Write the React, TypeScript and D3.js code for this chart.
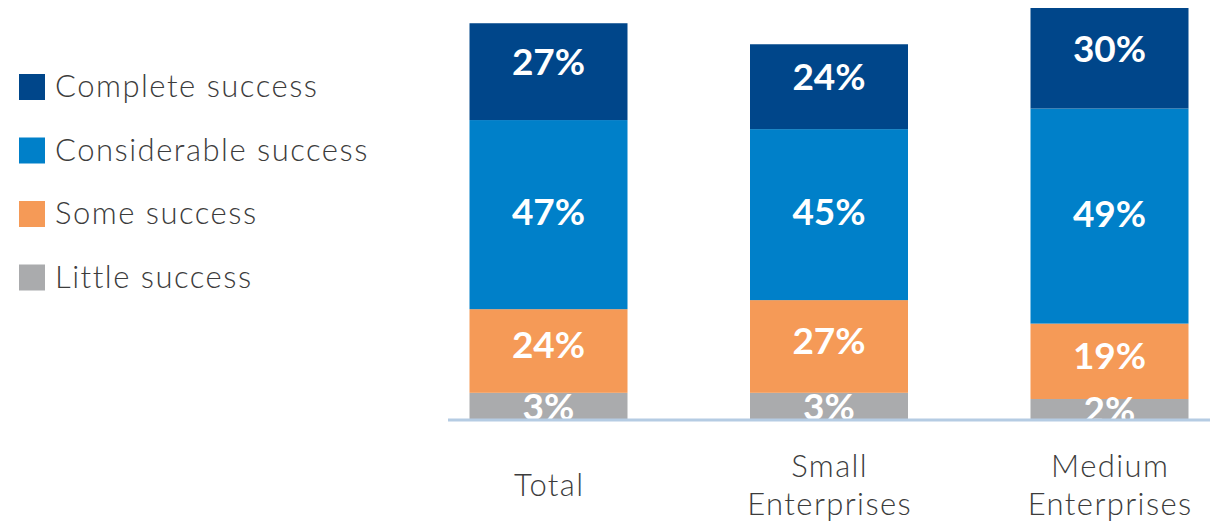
import React from "react";
import * as d3 from "d3";

// Categories (x axis)
const categories: string[][] = [["Total"], ["Small", "Enterprises"], ["Medium", "Enterprises"]];
const categoryKeys = ["Total", "Small Enterprises", "Medium Enterprises"];

// Series names (legend, top to bottom)
const seriesNames = ["Complete success", "Considerable success", "Some success", "Little success"];

// Printed percentage labels per series
const completeLabels = [27, 24, 30];
const considerableLabels = [47, 45, 49];
const someLabels = [24, 27, 19];
const littleLabels = [3, 3, 2];

// Segment sizes as drawn in the picture (share of the full-height bar)
const completeDrawn = [23.5, 20.6, 24.4];
const considerableDrawn = [45.9, 41.5, 52.2];
const someDrawn = [20.3, 22.5, 18.3];
const littleDrawn = [6.6, 6.6, 5.1];

const colors = ["#00468A", "#0080C9", "#F59A57", "#AAABAD"];
const labelDy = [-11, -4, -7, -1];

export default function App() {
  const W = 1210;
  const H = 521;
  const baseY = 420;
  const barW = 158;

  const x = d3.scalePoint<string>().domain(categoryKeys).range([548.5, 1109.5]);
  const y = d3.scaleLinear().domain([0, 100]).range([baseY, 8]);

  // stack bottom-to-top: little, some, considerable, complete
  const drawnBottomUp = [littleDrawn, someDrawn, considerableDrawn, completeDrawn];
  const labelsBottomUp = [littleLabels, someLabels, considerableLabels, completeLabels];
  const colorIdxBottomUp = [3, 2, 1, 0];

  const rows = categoryKeys.map((k, i) => {
    const o: any = { key: k };
    drawnBottomUp.forEach((arr, s) => (o["s" + s] = arr[i]));
    return o;
  });
  const stack = d3.stack<any>().keys(["s0", "s1", "s2", "s3"]);
  const stacked = stack(rows);

  const valueFont = "Lato, 'Open Sans', sans-serif";
  const textFont = "Lato, 'Open Sans', sans-serif";

  return (
    <svg
      width={W}
      height={H}
      style={{ position: "absolute", left: 0, top: 0, background: "#fff" }}
    >
      {/* legend */}
      {seriesNames.map((name, i) => {
        const top = 74 + i * 63.5;
        return (
          <g key={name}>
            <rect x={19} y={top} width={26} height={26} fill={colors[i]} />
            <text
              x={55}
              y={top + 23}
              fontFamily={textFont}
              fontWeight={300}
              fontSize={31}
              letterSpacing={1.5}
              fill="#3C3C3C"
            >
              {name}
            </text>
          </g>
        );
      })}

      {/* bars */}
      {stacked.map((layer, s) => (
        <g key={layer.key}>
          {layer.map((d, i) => {
            const cx = x(categoryKeys[i]) as number;
            const y0 = y(d[0]);
            const y1 = y(d[1]);
            return (
              <rect
                key={i}
                x={cx - barW / 2}
                y={y1}
                width={barW}
                height={y0 - y1}
                fill={colors[colorIdxBottomUp[s]]}
              />
            );
          })}
        </g>
      ))}

      {/* value labels */}
      {stacked.map((layer, s) => (
        <g key={"l" + layer.key}>
          {layer.map((d, i) => {
            const cx = x(categoryKeys[i]) as number;
            const mid = (y(d[0]) + y(d[1])) / 2 + labelDy[colorIdxBottomUp[s]];
            return (
              <text
                key={i}
                x={cx}
                y={mid}
                textAnchor="middle"
                dominantBaseline="central"
                fontFamily={valueFont}
                fontWeight={700}
                fontSize={37}
                fill="#fff"
              >
                {labelsBottomUp[s][i]}%
              </text>
            );
          })}
        </g>
      ))}

      {/* axis line */}
      <line x1={448} x2={1210} y1={baseY} y2={baseY} stroke="#B5CCE3" strokeWidth={3} />

      {/* category labels */}
      {categories.map((lines, i) => {
        const cx = (x(categoryKeys[i]) as number) + 0.7;
        const lineH = 38;
        const centerY = 484;
        const startY = centerY - ((lines.length - 1) * lineH) / 2;
        return (
          <text
            key={i}
            x={cx}
            textAnchor="middle"
            fontFamily={textFont}
            fontWeight={300}
            fontSize={31}
            letterSpacing={1.4}
            fill="#3C3C3C"
          >
            {lines.map((ln, j) => (
              <tspan key={j} x={cx} y={startY + j * lineH} dominantBaseline="central">
                {ln}
              </tspan>
            ))}
          </text>
        );
      })}
    </svg>
  );
}
